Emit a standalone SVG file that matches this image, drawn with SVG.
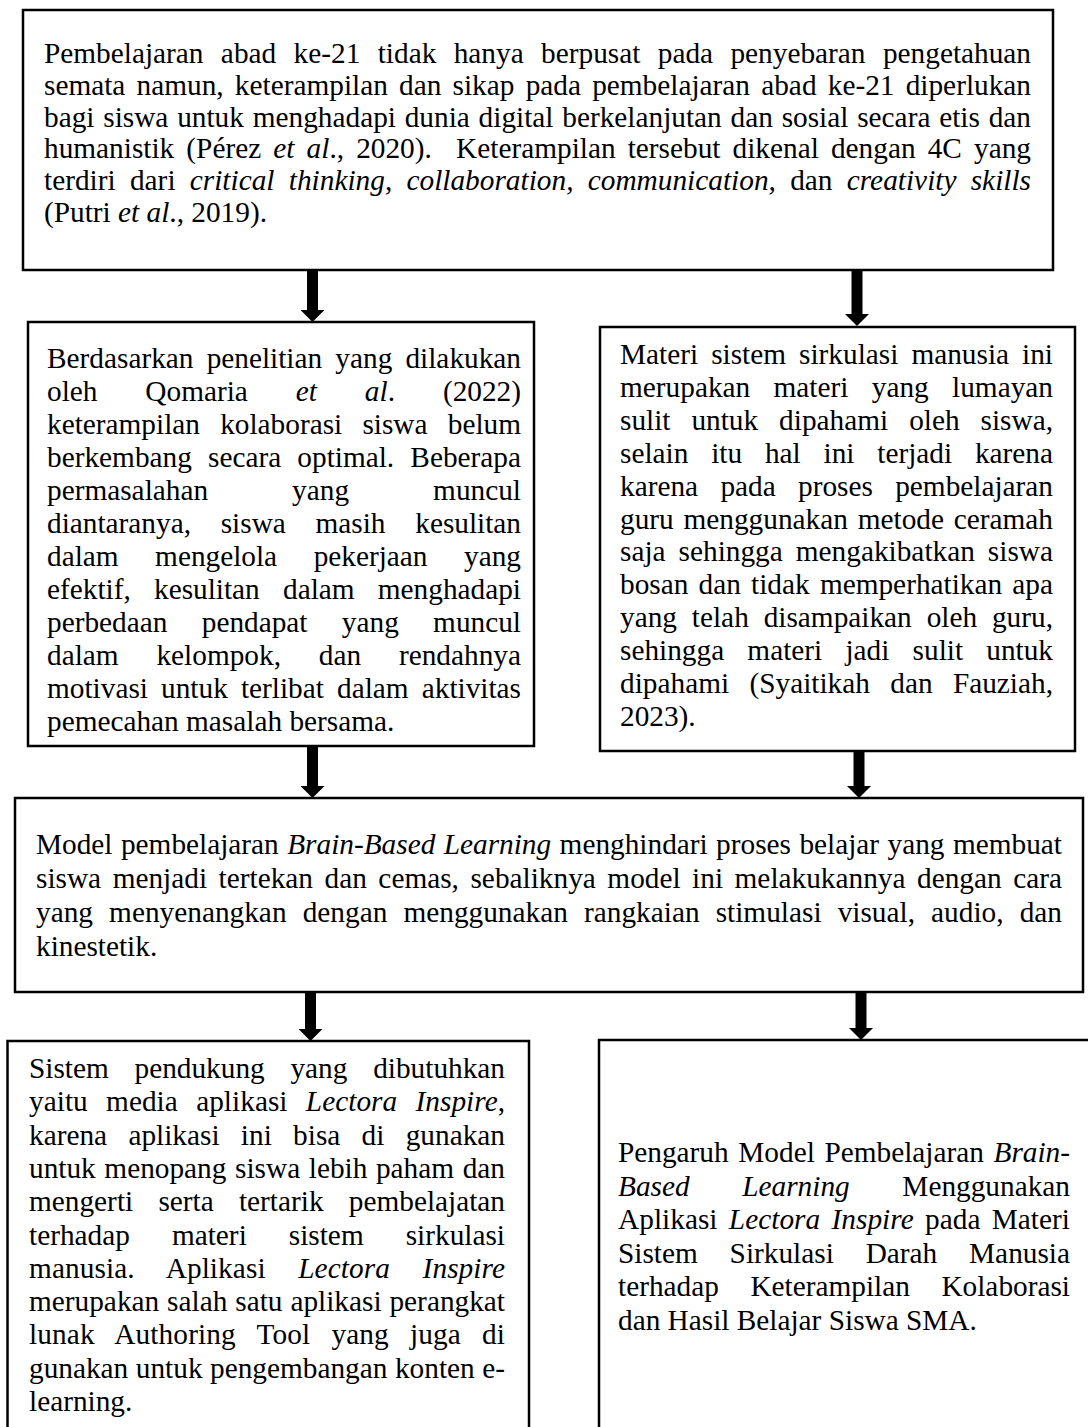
<svg xmlns="http://www.w3.org/2000/svg" width="1088" height="1427" viewBox="0 0 1088 1427">
<style>
.box{fill:#fff;stroke:#000;stroke-width:2.5}
text{font-family:"Liberation Serif","Times New Roman",serif;font-size:29.3px;fill:#000}
.i{font-style:italic}
.arrow{stroke:#000;stroke-width:11;fill:none}
</style>
<defs>
<marker id="head" markerUnits="userSpaceOnUse" markerWidth="12" markerHeight="24" viewBox="0 0 12 24" refX="0" refY="12" orient="auto">
<path d="M0,0 L12,12 L0,24 Z" fill="#000"/>
</marker>
</defs>
<rect width="1088" height="1427" fill="#fff"/>

<g id="node-abad21">
<rect class="box" x="23" y="10" width="1030" height="260"/>
<text x="44" y="63" word-spacing="10.07" textLength="987" lengthAdjust="spacing">Pembelajaran abad ke-21 tidak hanya berpusat pada penyebaran pengetahuan</text>
<text x="44" y="94.8" word-spacing="3.89" textLength="987" lengthAdjust="spacing">semata namun, keterampilan dan sikap pada pembelajaran abad ke-21 diperlukan</text>
<text x="44" y="126.6" word-spacing="1.47" textLength="987" lengthAdjust="spacing">bagi siswa untuk menghadapi dunia digital berkelanjutan dan sosial secara etis dan</text>
<text x="44" y="158.4" word-spacing="4.8" textLength="987" lengthAdjust="spacing">humanistik (Pérez <tspan class="i">et al</tspan>., 2020).&#160; Keterampilan tersebut dikenal dengan 4C yang</text>
<text x="44" y="190.2" word-spacing="6.89" textLength="987" lengthAdjust="spacing">terdiri dari <tspan class="i">critical thinking</tspan>, <tspan class="i">collaboration, communication,</tspan> dan <tspan class="i">creativity skills</tspan></text>
<text x="44" y="222">(Putri <tspan class="i">et al</tspan>., 2019).</text>
</g>

<g id="node-kolaborasi">
<rect class="box" x="28" y="322" width="506" height="424"/>
<text x="47" y="367.5" word-spacing="5.83" textLength="474" lengthAdjust="spacing">Berdasarkan penelitian yang dilakukan</text>
<text x="47" y="400.5" word-spacing="40.6" textLength="474" lengthAdjust="spacing">oleh Qomaria <tspan class="i">et</tspan> <tspan class="i">al</tspan>. (2022)</text>
<text x="47" y="433.5" word-spacing="12.9" textLength="474" lengthAdjust="spacing">keterampilan kolaborasi siswa belum</text>
<text x="47" y="466.5" word-spacing="8.83" textLength="474" lengthAdjust="spacing">berkembang secara optimal. Beberapa</text>
<text x="47" y="499.5" word-spacing="76.7" textLength="474" lengthAdjust="spacing">permasalahan yang muncul</text>
<text x="47" y="532.5" word-spacing="22.4" textLength="474" lengthAdjust="spacing">diantaranya, siswa masih kesulitan</text>
<text x="47" y="565.5" word-spacing="29.2" textLength="474" lengthAdjust="spacing">dalam mengelola pekerjaan yang</text>
<text x="47" y="598.5" word-spacing="15.9" textLength="474" lengthAdjust="spacing">efektif, kesulitan dalam menghadapi</text>
<text x="47" y="631.5" word-spacing="27" textLength="474" lengthAdjust="spacing">perbedaan pendapat yang muncul</text>
<text x="47" y="664.5" word-spacing="30.5" textLength="474" lengthAdjust="spacing">dalam kelompok, dan rendahnya</text>
<text x="47" y="697.5" word-spacing="5.78" textLength="474" lengthAdjust="spacing">motivasi untuk terlibat dalam aktivitas</text>
<text x="47" y="730.5">pemecahan masalah bersama.</text>
</g>

<g id="node-sirkulasi">
<rect class="box" x="600" y="327" width="475" height="424"/>
<text x="620" y="364" word-spacing="5.7" textLength="433" lengthAdjust="spacing">Materi sistem sirkulasi manusia ini</text>
<text x="620" y="396.9" word-spacing="16" textLength="433" lengthAdjust="spacing">merupakan materi yang lumayan</text>
<text x="620" y="429.8" word-spacing="13.6" textLength="433" lengthAdjust="spacing">sulit untuk dipahami oleh siswa,</text>
<text x="620" y="462.7" word-spacing="15.5" textLength="433" lengthAdjust="spacing">selain itu hal ini terjadi karena</text>
<text x="620" y="495.6" word-spacing="15" textLength="433" lengthAdjust="spacing">karena pada proses pembelajaran</text>
<text x="620" y="528.5" word-spacing="2.5" textLength="433" lengthAdjust="spacing">guru menggunakan metode ceramah</text>
<text x="620" y="561.4" word-spacing="5.7" textLength="433" lengthAdjust="spacing">saja sehingga mengakibatkan siswa</text>
<text x="620" y="594.3" word-spacing="2.9" textLength="433" lengthAdjust="spacing">bosan dan tidak memperhatikan apa</text>
<text x="620" y="627.2" word-spacing="7.55" textLength="433" lengthAdjust="spacing">yang telah disampaikan oleh guru,</text>
<text x="620" y="660.1" word-spacing="15.9" textLength="433" lengthAdjust="spacing">sehingga materi jadi sulit untuk</text>
<text x="620" y="693" word-spacing="13" textLength="433" lengthAdjust="spacing">dipahami (Syaitikah dan Fauziah,</text>
<text x="620" y="725.9">2023).</text>
</g>

<g id="node-bbl">
<rect class="box" x="15" y="798" width="1068" height="194"/>
<text x="36" y="854" word-spacing="1.1" textLength="1026" lengthAdjust="spacing">Model pembelajaran <tspan class="i">Brain-Based Learning</tspan> menghindari proses belajar yang membuat</text>
<text x="36" y="888" word-spacing="4.2" textLength="1026" lengthAdjust="spacing">siswa menjadi tertekan dan cemas, sebaliknya model ini melakukannya dengan cara</text>
<text x="36" y="922" word-spacing="8.8" textLength="1026" lengthAdjust="spacing">yang menyenangkan dengan menggunakan rangkaian stimulasi visual, audio, dan</text>
<text x="36" y="956">kinestetik.</text>
</g>

<g id="node-lectora">
<rect class="box" x="7.5" y="1041" width="521.5" height="400"/>
<text x="29" y="1078" word-spacing="18.4" textLength="476" lengthAdjust="spacing">Sistem pendukung yang dibutuhkan</text>
<text x="29" y="1111.3" word-spacing="11" textLength="476" lengthAdjust="spacing">yaitu media aplikasi <tspan class="i">Lectora Inspire</tspan>,</text>
<text x="29" y="1144.6" word-spacing="14" textLength="476" lengthAdjust="spacing">karena aplikasi ini bisa di gunakan</text>
<text x="29" y="1177.9" word-spacing="1.3" textLength="476" lengthAdjust="spacing">untuk menopang siswa lebih paham dan</text>
<text x="29" y="1211.2" word-spacing="17.9" textLength="476" lengthAdjust="spacing">mengerti serta tertarik pembelajatan</text>
<text x="29" y="1244.5" word-spacing="34.7" textLength="476" lengthAdjust="spacing">terhadap materi sistem sirkulasi</text>
<text x="29" y="1277.8" word-spacing="25.2" textLength="476" lengthAdjust="spacing">manusia. Aplikasi <tspan class="i">Lectora Inspire</tspan></text>
<text x="29" y="1311.1" word-spacing="0.6" textLength="476" lengthAdjust="spacing">merupakan salah satu aplikasi perangkat</text>
<text x="29" y="1344.4" word-spacing="13.7" textLength="476" lengthAdjust="spacing">lunak Authoring Tool yang juga di</text>
<text x="29" y="1377.7" word-spacing="0.2" textLength="476" lengthAdjust="spacing">gunakan untuk pengembangan konten e-</text>
<text x="29" y="1411">learning.</text>
</g>

<g id="node-judul">
<rect class="box" x="599" y="1040" width="500" height="400"/>
<text x="618" y="1162" word-spacing="2.3" textLength="452" lengthAdjust="spacing">Pengaruh Model Pembelajaran <tspan class="i">Brain-</tspan></text>
<text x="618" y="1195.6" word-spacing="45.3" textLength="452" lengthAdjust="spacing"><tspan class="i">Based Learning</tspan> Menggunakan</text>
<text x="618" y="1229.2" word-spacing="3.95" textLength="452" lengthAdjust="spacing">Aplikasi <tspan class="i">Lectora Inspire</tspan> pada Materi</text>
<text x="618" y="1262.8" word-spacing="24.5" textLength="452" lengthAdjust="spacing">Sistem Sirkulasi Darah Manusia</text>
<text x="618" y="1296.4" word-spacing="24.2" textLength="452" lengthAdjust="spacing">terhadap Keterampilan Kolaborasi</text>
<text x="618" y="1330">dan Hasil Belajar Siswa SMA.</text>
</g>

<g id="connectors">
<line class="arrow" x1="312.5" y1="271" x2="312.5" y2="310" marker-end="url(#head)"/>
<line class="arrow" x1="857" y1="271" x2="857" y2="314" marker-end="url(#head)"/>
<line class="arrow" x1="312.5" y1="747" x2="312.5" y2="786" marker-end="url(#head)"/>
<line class="arrow" x1="859" y1="752" x2="859" y2="786" marker-end="url(#head)"/>
<line class="arrow" x1="310.5" y1="993" x2="310.5" y2="1029" marker-end="url(#head)"/>
<line class="arrow" x1="861" y1="993" x2="861" y2="1028" marker-end="url(#head)"/>
</g>
</svg>
